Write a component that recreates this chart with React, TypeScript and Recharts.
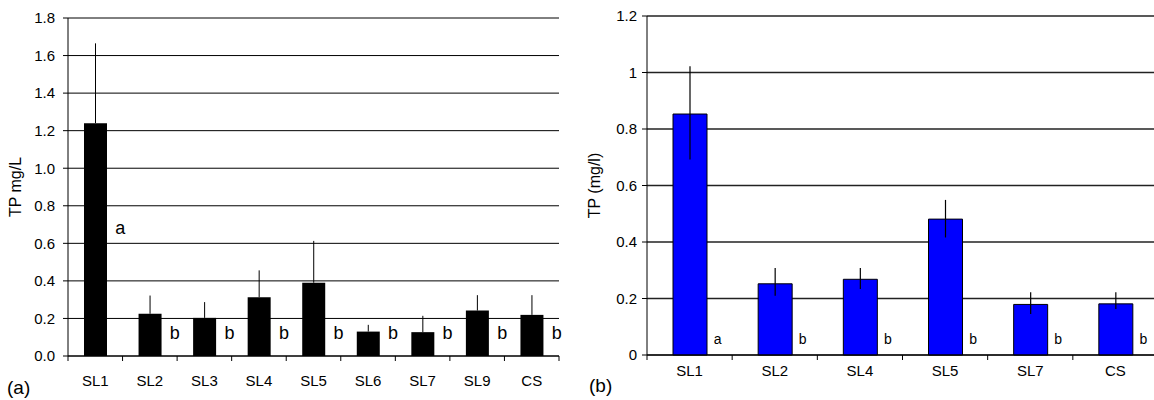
import { ComposedChart, Bar, Line, XAxis, YAxis, CartesianGrid, ErrorBar, Label } from 'recharts';

// panel (a)
const sitesA = ['SL1', 'SL2', 'SL3', 'SL4', 'SL5', 'SL6', 'SL7', 'SL9', 'CS'];
const meanA = [1.24, 0.225, 0.203, 0.313, 0.39, 0.13, 0.127, 0.242, 0.219];
const errA = [0.425, 0.097, 0.084, 0.143, 0.223, 0.036, 0.087, 0.082, 0.105];
const groupA = ['a', 'b', 'b', 'b', 'b', 'b', 'b', 'b', 'b'];
const groupPosA = [0.68, 0.12, 0.12, 0.12, 0.12, 0.12, 0.12, 0.12, 0.12];
const ticksA = [0, 0.2, 0.4, 0.6, 0.8, 1.0, 1.2, 1.4, 1.6, 1.8];

// panel (b)
const sitesB = ['SL1', 'SL2', 'SL4', 'SL5', 'SL7', 'CS'];
const meanB = [0.853, 0.252, 0.268, 0.481, 0.179, 0.181];
const errLoB = [0.161, 0.042, 0.034, 0.065, 0.034, 0.018];
const errHiB = [0.169, 0.056, 0.04, 0.068, 0.043, 0.041];
const groupB = ['a', 'b', 'b', 'b', 'b', 'b'];
const groupPosB = [0.055, 0.055, 0.055, 0.055, 0.055, 0.055];
const ticksB = [0, 0.2, 0.4, 0.6, 0.8, 1, 1.2];

const FONT = '"Liberation Sans", Arial, Helvetica, sans-serif';

const dataA = sitesA.map((s, i) => ({ site: s, tp: meanA[i], err: [0, errA[i]], pos: groupPosA[i] }));
const dataB = sitesB.map((s, i) => ({ site: s, tp: meanB[i], err: [errLoB[i], errHiB[i]], pos: groupPosB[i] }));

// x ticks sit on the category boundaries, labels in the middle
function boundaryTick(band: number, count: number, labelDy: number, fontSize: number) {
  return (props: any) => {
    const { x, y, payload, index } = props;
    return (
      <g>
        <line x1={x - band / 2} x2={x - band / 2} y1={y} y2={y + 5} stroke="#000" />
        {index === count - 1 && <line x1={x + band / 2} x2={x + band / 2} y1={y} y2={y + 5} stroke="#000" />}
        <text x={x} y={y + labelDy} textAnchor="middle" fontSize={fontSize} fontFamily={FONT} fill="#000">
          {payload.value}
        </text>
      </g>
    );
  };
}

function letterLabel(letters: string[], dx: number, fontSize: number) {
  return (props: any) => {
    const { x, y, index } = props;
    return (
      <text x={x + dx} y={y} textAnchor="middle" dominantBaseline="central" fontSize={fontSize} fontFamily={FONT} fill="#000">
        {letters[index]}
      </text>
    );
  };
}

function yTitle(text: string, cx: number) {
  return (props: any) => {
    const vb = props.viewBox;
    const cy = vb.y + vb.height / 2;
    return (
      <text x={cx} y={cy} transform={`rotate(-90, ${cx}, ${cy})`} textAnchor="middle" dominantBaseline="central" fontSize={16} fontFamily={FONT} fill="#000">
        {text}
      </text>
    );
  };
}

function panelTag(text: string, x: number, y: number) {
  return () => (
    <text x={x} y={y} fontSize={19} fontFamily={FONT} fill="#000">
      {text}
    </text>
  );
}

const tickStyle = { fontSize: 15, fontFamily: FONT, fill: '#000' };

function PanelA() {
  const width = 570;
  const margin = { top: 18, right: 11, bottom: 0, left: 0 };
  const yw = 68;
  const band = (width - margin.left - margin.right - yw) / sitesA.length;
  return (
    <ComposedChart width={width} height={400} data={dataA} margin={margin} barSize={23}>
      <CartesianGrid vertical={false} stroke="#000" />
      <XAxis
        dataKey="site"
        height={44}
        stroke="#000"
        tickLine={false}
        tickSize={0}
        tickMargin={0}
        interval={0}
        tick={boundaryTick(band, sitesA.length, 30, 15)}
      >
        <Label content={panelTag('(a)', 7, 394)} />
      </XAxis>
      <YAxis
        width={yw}
        domain={[0, 1.8]}
        ticks={ticksA}
        tickFormatter={(v: number) => v.toFixed(1)}
        stroke="#000"
        tickSize={5}
        tickMargin={8}
        tick={tickStyle}
      >
        <Label content={yTitle('TP mg/L', 15)} />
      </YAxis>
      <YAxis yAxisId="frame" orientation="right" width={0} tick={false} tickLine={false} stroke="#000" />
      <Bar dataKey="tp" fill="#000" isAnimationActive={false}>
        <ErrorBar dataKey="err" width={0} stroke="#000" strokeWidth={1} direction="y" />
      </Bar>
      <Line dataKey="pos" stroke="none" dot={false} activeDot={false} isAnimationActive={false} label={letterLabel(groupA, 25, 18)} />
    </ComposedChart>
  );
}

function PanelB() {
  const width = 578;
  const margin = { top: 16, right: 0, bottom: 0, left: 0 };
  const yw = 67;
  const band = (width - margin.left - margin.right - yw) / sitesB.length;
  return (
    <ComposedChart width={width} height={400} data={dataB} margin={margin} barSize={34}>
      <CartesianGrid vertical={false} stroke="#222" strokeWidth={1.4} />
      <XAxis
        dataKey="site"
        height={45}
        stroke="#000"
        tickLine={false}
        tickSize={0}
        tickMargin={0}
        interval={0}
        tick={boundaryTick(band, sitesB.length, 21, 15)}
      >
        <Label content={panelTag('(b)', 9, 392)} />
      </XAxis>
      <YAxis
        width={yw}
        domain={[0, 1.2]}
        ticks={ticksB}
        tickFormatter={(v: number) => String(v)}
        stroke="#000"
        tickSize={5}
        tickMargin={5}
        tick={tickStyle}
      >
        <Label content={yTitle('TP (mg/l)', 14)} />
      </YAxis>
      <Bar dataKey="tp" fill="#0000ff" stroke="#000" strokeWidth={1} isAnimationActive={false}>
        <ErrorBar dataKey="err" width={0} stroke="#000" strokeWidth={1.2} direction="y" />
      </Bar>
      <Line dataKey="pos" stroke="none" dot={false} activeDot={false} isAnimationActive={false} label={letterLabel(groupB, 28, 14)} />
    </ComposedChart>
  );
}

export default function App() {
  return (
    <div style={{ position: 'absolute', left: 0, top: 0, width: 1154, height: 400, overflow: 'hidden', background: '#fff' }}>
      <div style={{ position: 'absolute', left: 0, top: 0 }}>
        <PanelA />
      </div>
      <div style={{ position: 'absolute', left: 580, top: 0 }}>
        <PanelB />
      </div>
    </div>
  );
}
